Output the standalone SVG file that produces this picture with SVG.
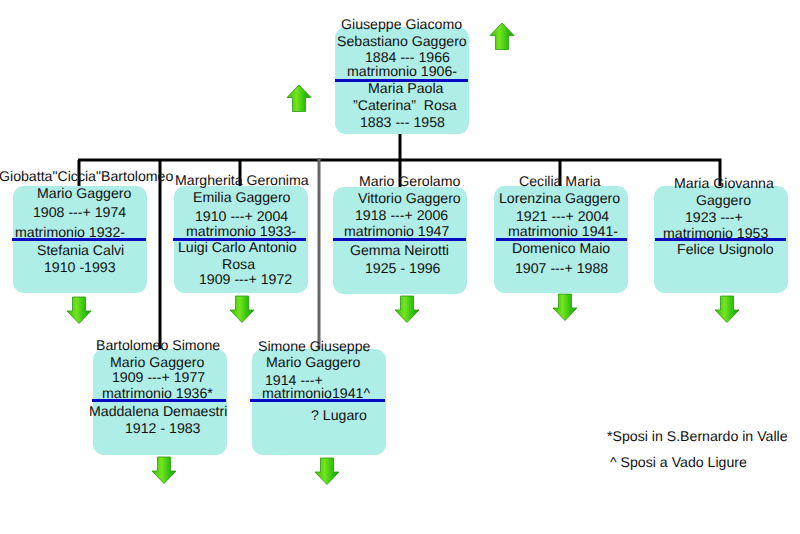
<svg xmlns="http://www.w3.org/2000/svg" width="800" height="534" viewBox="0 0 800 534">
<style>
text{font-family:"Liberation Sans",Arial,sans-serif;font-size:14.15px;fill:#111;text-rendering:geometricPrecision}
.box{fill:#aeeee6}
.blue{fill:#0a0ac4}
.c{stroke:#000;stroke-width:3;fill:none}
.g{stroke:#666;stroke-width:3;fill:none}
.arrow{fill:url(#ag);stroke:#2a9a12;stroke-width:.8}
</style>
<defs>
<linearGradient id="ag" x1="0" y1="0" x2="1" y2="0"><stop offset="0" stop-color="#3cbc10"/><stop offset=".4" stop-color="#74e41c"/><stop offset=".7" stop-color="#34c40e"/><stop offset="1" stop-color="#1f9e10"/></linearGradient>
<path id="down" d="M-6.500 0H6.500V14H12L0 26.500L-12 14H-6.500Z"/>
<path id="up" d="M-6.500 26.500H6.500V12.500H12L0 0L-12 12.500H-6.500Z"/>
</defs>
<rect width="800" height="534" fill="#fff"/>
<g id="connectors">
<path class="c" d="M400 131V160M78 160H721.500M79 160V187M160 160V349M240 160V187M400 160V188M560 160V188M720 160V187"/>
<path class="g" d="M319 158V349"/>
</g>
<g id="n0"><rect class="box" x="335" y="27" width="134" height="107" rx="11"/><rect class="blue" x="335" y="79" width="133" height="3"/>
<text x="341" y="29">Giuseppe Giacomo</text><text x="337" y="46">Sebastiano Gaggero</text><text x="365" y="62">1884 --- 1966</text><text x="347" y="76">matrimonio 1906-</text><text x="368" y="93">Maria Paola</text><text x="353" y="110" xml:space="preserve">”Caterina”  Rosa</text><text x="360" y="127">1883 --- 1958</text></g>
<g id="n1"><rect class="box" x="13" y="186" width="134" height="107" rx="11"/><rect class="blue" x="12" y="238" width="134" height="3"/>
<text x="-1" y="181">Giobatta"Ciccia"Bartolomeo</text><text x="37" y="198">Mario Gaggero</text><text x="33" y="217">1908 ---+ 1974</text><text x="15" y="237">matrimonio 1932-</text><text x="37" y="255">Stefania Calvi</text><text x="44" y="272">1910 -1993</text></g>
<g id="n2"><rect class="box" x="174" y="186" width="134" height="107" rx="11"/><rect class="blue" x="173" y="238" width="133" height="3"/>
<text x="175" y="185">Margherita  Geronima</text><text x="193" y="202">Emilia Gaggero</text><text x="195" y="221">1910 ---+ 2004</text><text x="186" y="236">matrimonio 1933-</text><text x="178" y="252">Luigi Carlo Antonio</text><text x="222" y="269">Rosa</text><text x="199" y="284">1909 ---+ 1972</text></g>
<g id="n3"><rect class="box" x="333" y="187" width="134" height="107" rx="11"/><rect class="blue" x="333" y="238" width="133" height="3"/>
<text x="359" y="186">Mario Gerolamo</text><text x="358" y="203">Vittorio Gaggero</text><text x="355" y="220">1918 ---+ 2006</text><text x="344" y="236">matrimonio 1947</text><text x="350" y="255">Gemma Neirotti</text><text x="365" y="273">1925 - 1996</text></g>
<g id="n4"><rect class="box" x="494" y="186" width="134" height="107" rx="11"/><rect class="blue" x="496" y="238" width="131" height="3"/>
<text x="519" y="186">Cecilia Maria</text><text x="499" y="203">Lorenzina Gaggero</text><text x="516" y="221">1921 ---+ 2004</text><text x="508" y="236">matrimonio 1941-</text><text x="512" y="253">Domenico Maio</text><text x="515" y="273">1907 ---+ 1988</text></g>
<g id="n5"><rect class="box" x="654" y="186" width="134" height="107" rx="11"/><rect class="blue" x="655" y="238" width="131" height="3"/>
<text x="674" y="188">Maria Giovanna</text><text x="696" y="205">Gaggero</text><text x="685" y="222">1923 ---+</text><text x="663" y="238">matrimonio 1953</text><text x="677" y="254">Felice Usignolo</text></g>
<g id="n6"><rect class="box" x="93" y="349" width="134" height="106" rx="11"/><rect class="blue" x="92" y="399" width="134" height="3"/>
<text x="96" y="350">Bartolomeo Simone</text><text x="110" y="367">Mario Gaggero</text><text x="112" y="382">1909 ---+ 1977</text><text x="102" y="398">matrimonio 1936*</text><text x="89" y="416">Maddalena Demaestri</text><text x="125" y="433">1912 - 1983</text></g>
<g id="n7"><rect class="box" x="252" y="349" width="134" height="106" rx="11"/><rect class="blue" x="250" y="399" width="135" height="3"/>
<text x="258" y="351">Simone Giuseppe</text><text x="266" y="367">Mario Gaggero</text><text x="265" y="385">1914 ---+</text><text x="262" y="398">matrimonio1941^</text><text x="311" y="420">? Lugaro</text></g>
<g id="arrows">
<use class="arrow" href="#up" x="299" y="85"/><use class="arrow" href="#up" x="502" y="23"/>
<use class="arrow" href="#down" x="79" y="297"/><use class="arrow" href="#down" x="242" y="296"/><use class="arrow" href="#down" x="407" y="296"/><use class="arrow" href="#down" x="565" y="294"/><use class="arrow" href="#down" x="727" y="296"/><use class="arrow" href="#down" x="164" y="457"/><use class="arrow" href="#down" x="327" y="458"/>
</g>
<g id="notes"><text x="607" y="441">*Sposi in S.Bernardo in Valle</text><text x="610" y="467">^ Sposi a Vado Ligure</text></g>
</svg>
